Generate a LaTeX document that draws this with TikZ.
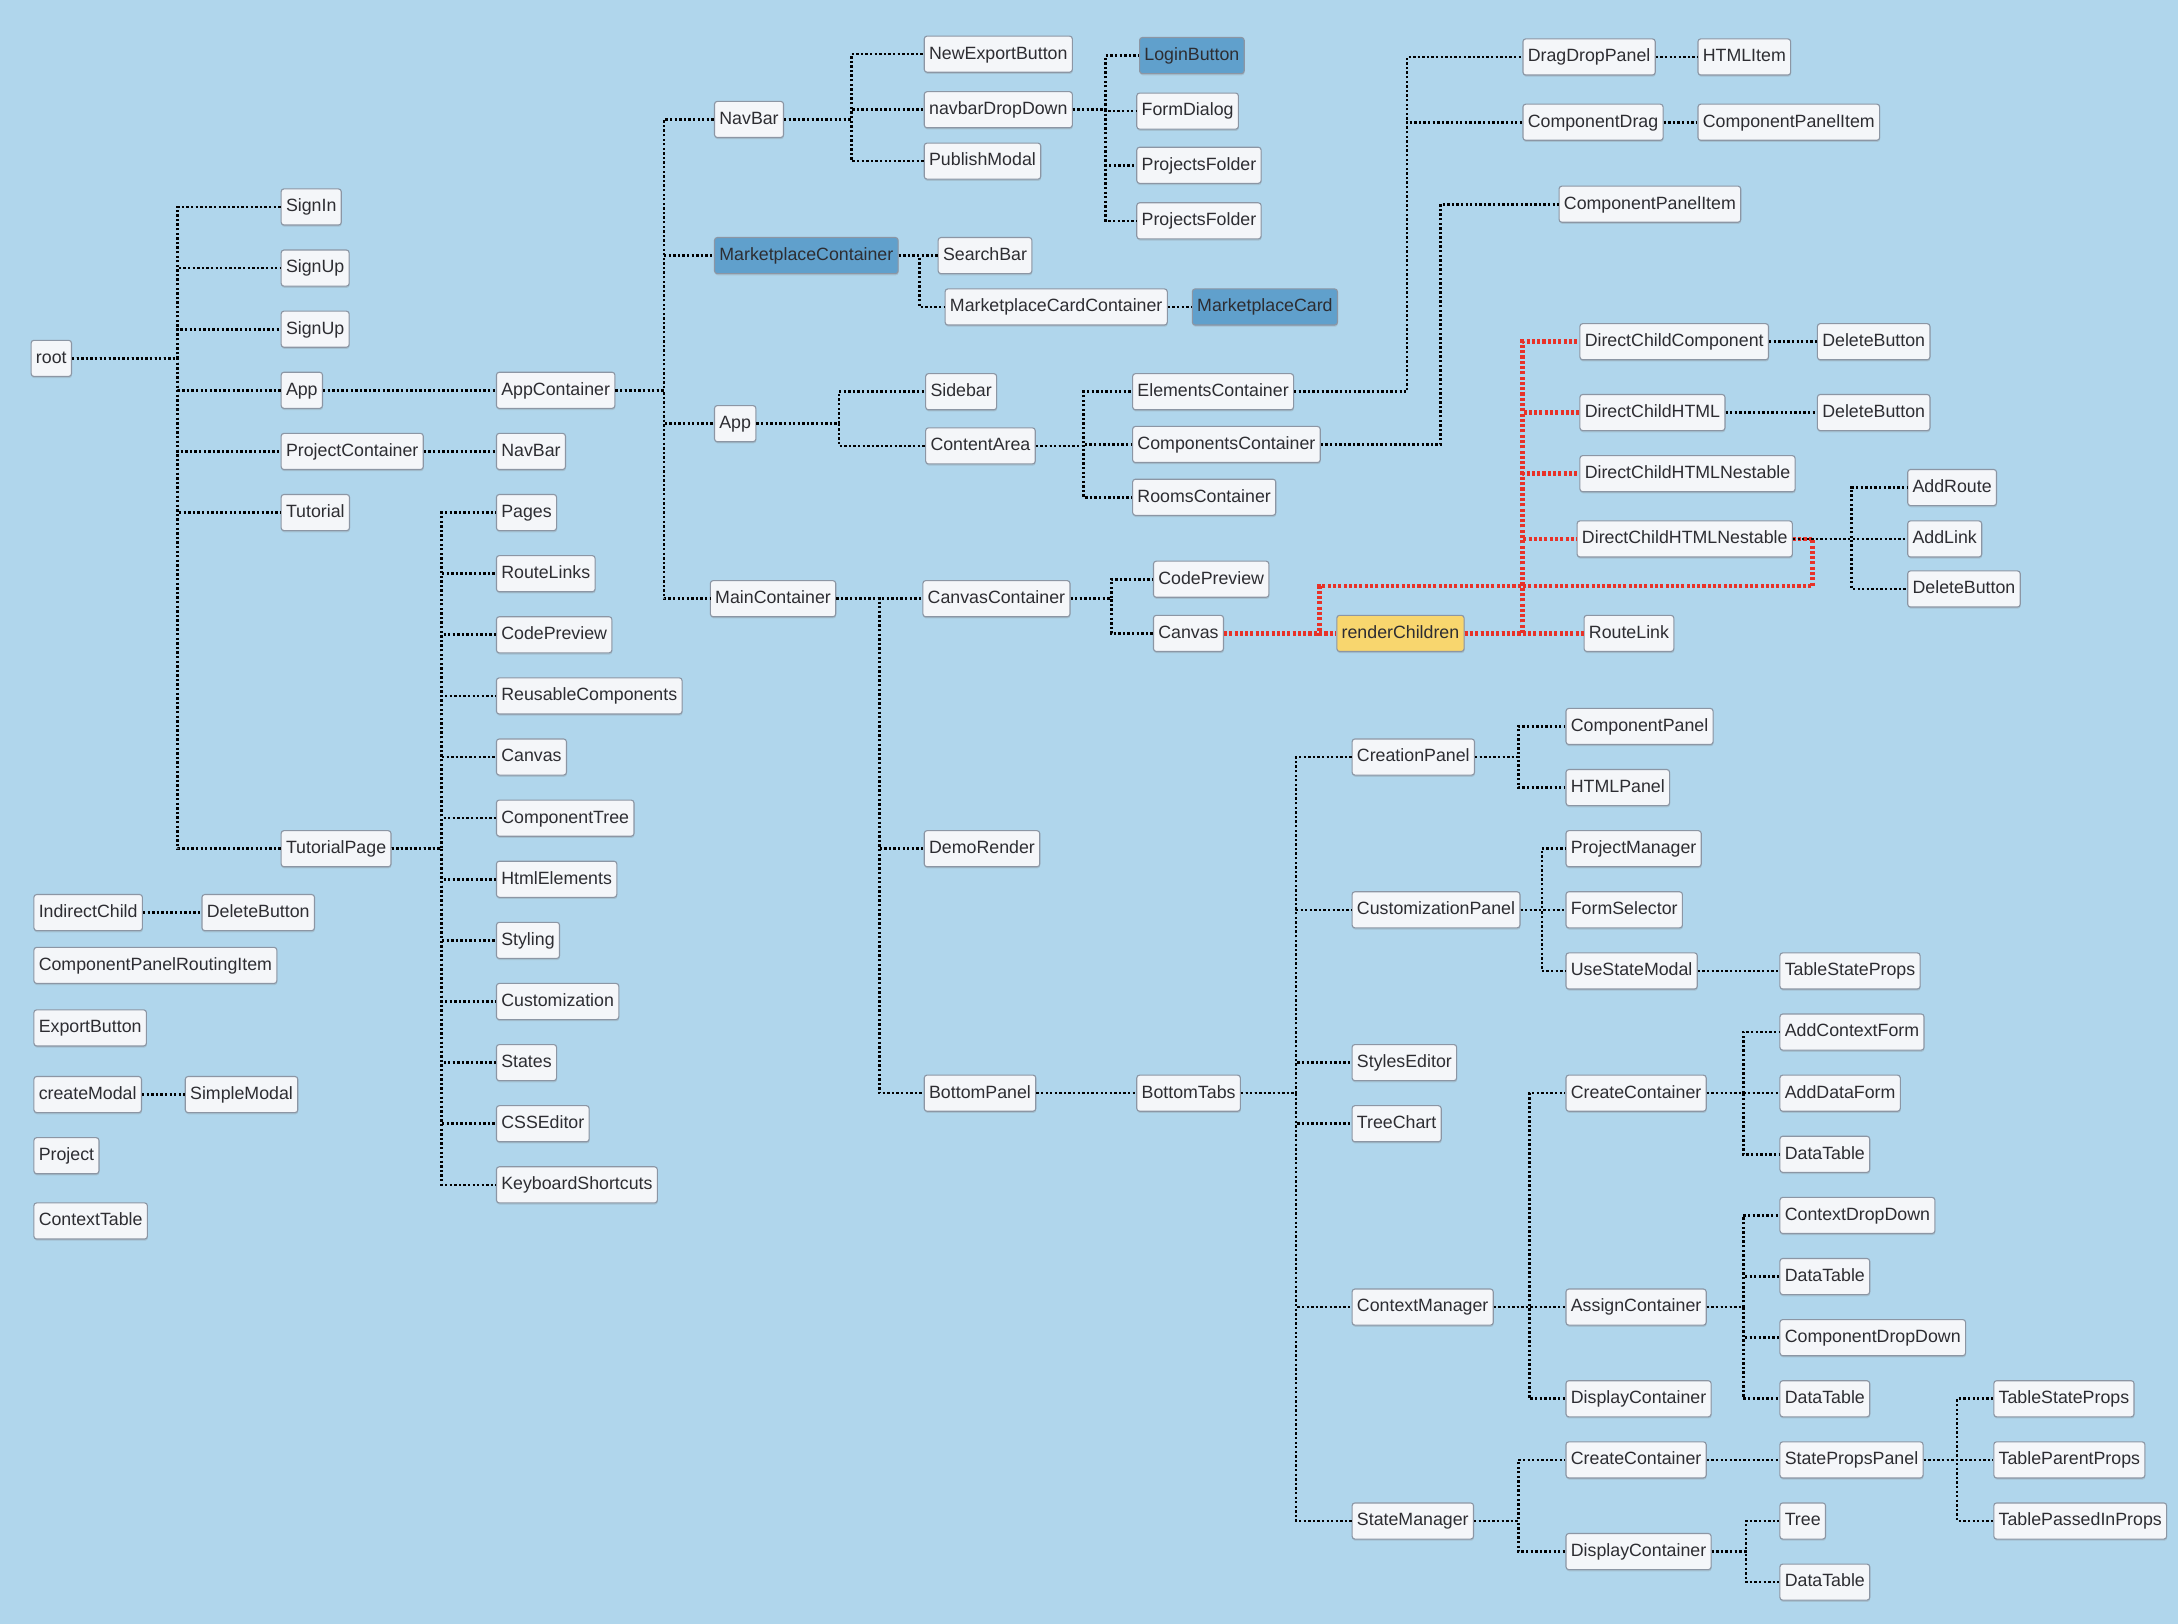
\documentclass[tikz,border=0pt]{standalone}
\usepackage{fontspec}
\setmainfont{Liberation Sans}
\usetikzlibrary{shadows}

\definecolor{bgblue}{RGB}{176,214,236}
\definecolor{boxfill}{RGB}{244,246,249}
\definecolor{boxline}{RGB}{140,150,164}
\definecolor{hlblue}{RGB}{96,160,204}
\definecolor{hlyellow}{RGB}{248,214,110}
\definecolor{redline}{RGB}{232,50,40}
\definecolor{txt}{RGB}{45,45,50}

\begin{document}
\begin{tikzpicture}[
  x=1pt,y=-1pt,
  box/.style={draw=boxline,fill=boxfill,rounded corners=2pt,line width=0.8pt,
              anchor=west,minimum height=26pt,inner xsep=3.5pt,
              text height=9.6pt,text depth=2.6pt,text=txt,
              font=\fontsize{12.8}{15}\selectfont,
              drop shadow={shadow xshift=0.3pt,shadow yshift=-1.2pt,opacity=.25}},
  hl/.style={box,fill=hlblue},
  yl/.style={box,fill=hlyellow},
  edge/.style={draw=black,line width=1.9pt,dash pattern=on 1.7pt off 1.6pt},
  redge/.style={draw=redline,line width=3.2pt,dash pattern=on 2.2pt off 1.6pt}
]

  % background, fixes the page size
  \fill[bgblue] (0,0) rectangle (1568,1169);

  %% ===== ROOT AND FIRST LEVEL =====
  \node[box] (root) at (22,258) {root};

  \node[box] (signin)   at (202,149) {SignIn};
  \node[box] (signupa)  at (202,193) {SignUp};
  \node[box] (signupb)  at (202,237) {SignUp};
  \node[box] (appa)     at (202,281) {App};
  \node[box] (projcont) at (202,325) {ProjectContainer};
  \node[box] (tutorial) at (202,369) {Tutorial};
  \node[box] (tutpage)  at (202,611) {TutorialPage};

  \foreach \c in {signin,signupa,signupb,appa,projcont,tutorial,tutpage}
    \draw[edge] (root.east) -| (128,0 |- \c) -- (\c.west);

  % App / ProjectContainer
  \node[box] (appcont) at (357,281) {AppContainer};
  \node[box] (navbara) at (357,325) {NavBar};
  \draw[edge] (appa.east) -- (appcont.west);
  \draw[edge] (projcont.east) -- (navbara.west);

  % Tutorial page children
  \node[box] (pages)     at (357,369) {Pages};
  \node[box] (routelnks) at (357,413) {RouteLinks};
  \node[box] (codepreva) at (357,457) {CodePreview};
  \node[box] (reusable)  at (357,501) {ReusableComponents};
  \node[box] (canvasa)   at (357,545) {Canvas};
  \node[box] (comptree)  at (357,589) {ComponentTree};
  \node[box] (htmlelems) at (357,633) {HtmlElements};
  \node[box] (styling)   at (357,677) {Styling};
  \node[box] (custom)    at (357,721) {Customization};
  \node[box] (states)    at (357,765) {States};
  \node[box] (csseditor) at (357,809) {CSSEditor};
  \node[box] (keyboard)  at (357,853) {KeyboardShortcuts};

  \foreach \c in {pages,routelnks,codepreva,reusable,canvasa,comptree,htmlelems,
                  styling,custom,states,csseditor,keyboard}
    \draw[edge] (tutpage.east) -| (318,0 |- \c) -- (\c.west);

  %% ===== APP CONTAINER =====
  \node[box] (navbarb)  at (514,86)  {NavBar};
  \node[hl]  (market)   at (514,184) {MarketplaceContainer};
  \node[box] (appb)     at (514,305) {App};
  \node[box] (maincont) at (511,431) {MainContainer};

  \foreach \c in {navbarb,market,appb,maincont}
    \draw[edge] (appcont.east) -| (478,0 |- \c) -- (\c.west);

  % NavBar
  \node[box] (newexport) at (665,39)  {NewExportButton};
  \node[box] (navdrop)   at (665,79)  {navbarDropDown};
  \node[box] (publish)   at (665,116) {PublishModal};

  \foreach \c in {newexport,navdrop,publish}
    \draw[edge] (navbarb.east) -| (613,0 |- \c) -- (\c.west);

  \node[hl]  (login)      at (820,40)  {LoginButton};
  \node[box] (formdialog) at (818,80)  {FormDialog};
  \node[box] (projfolda)  at (818,119) {ProjectsFolder};
  \node[box] (projfoldb)  at (818,159) {ProjectsFolder};

  \foreach \c in {login,formdialog,projfolda,projfoldb}
    \draw[edge] (navdrop.east) -| (796,0 |- \c) -- (\c.west);

  % Marketplace
  \node[box] (searchbar) at (675,184) {SearchBar};
  \node[box] (mcardcont) at (680,221) {MarketplaceCardContainer};
  \node[hl]  (mcard)     at (858,221) {MarketplaceCard};

  \foreach \c in {searchbar,mcardcont}
    \draw[edge] (market.east) -| (662,0 |- \c) -- (\c.west);
  \draw[edge] (mcardcont.east) -- (mcard.west);

  % App -> Sidebar / ContentArea
  \node[box] (sidebar) at (666,282) {Sidebar};
  \node[box] (content) at (666,321) {ContentArea};

  \foreach \c in {sidebar,content}
    \draw[edge] (appb.east) -| (604,0 |- \c) -- (\c.west);

  \node[box] (elemcont)  at (815,282) {ElementsContainer};
  \node[box] (compscont) at (815,320) {ComponentsContainer};
  \node[box] (rooms)     at (815,358) {RoomsContainer};

  \foreach \c in {elemcont,compscont,rooms}
    \draw[edge] (content.east) -| (780,0 |- \c) -- (\c.west);

  \node[box] (dragdrop) at (1096,41)  {DragDropPanel};
  \node[box] (htmlitem) at (1222,41)  {HTMLItem};
  \node[box] (compdrag) at (1096,88)  {ComponentDrag};
  \node[box] (cpitema)  at (1222,88)  {ComponentPanelItem};
  \node[box] (cpitemb)  at (1122,147) {ComponentPanelItem};

  \foreach \c in {dragdrop,compdrag}
    \draw[edge] (elemcont.east) -| (1013,0 |- \c) -- (\c.west);
  \draw[edge] (dragdrop.east) -- (htmlitem.west);
  \draw[edge] (compdrag.east) -- (cpitema.west);
  \draw[edge] (compscont.east) -| (1037,0 |- cpitemb) -- (cpitemb.west);

  %% ===== MAIN CONTAINER =====
  \node[box] (canvcont)  at (664,431) {CanvasContainer};
  \node[box] (demo)      at (665,611) {DemoRender};
  \node[box] (botpanel)  at (665,787) {BottomPanel};

  \foreach \c in {canvcont,demo,botpanel}
    \draw[edge] (maincont.east) -| (633,0 |- \c) -- (\c.west);

  \node[box] (codeprevb) at (830,417) {CodePreview};
  \node[box] (canvasb)   at (830,456) {Canvas};

  \foreach \c in {codeprevb,canvasb}
    \draw[edge] (canvcont.east) -| (800,0 |- \c) -- (\c.west);

  % render path (red)
  \node[yl]  (render)    at (962,456)  {renderChildren};
  \node[box] (dcc)       at (1137,246) {DirectChildComponent};
  \node[box] (dchtml)    at (1137,297) {DirectChildHTML};
  \node[box] (dcnesta)   at (1137,341) {DirectChildHTMLNestable};
  \node[box] (dcnestb)   at (1135,388) {DirectChildHTMLNestable};
  \node[box] (routelink) at (1140,456) {RouteLink};
  \node[box] (delbtna)   at (1308,246) {DeleteButton};
  \node[box] (delbtnb)   at (1308,297) {DeleteButton};
  \node[box] (addroute)  at (1373,351) {AddRoute};
  \node[box] (addlink)   at (1373,388) {AddLink};
  \node[box] (delbtnc)   at (1373,424) {DeleteButton};

  \draw[redge] (canvasb.east) -- (render.west);
  \foreach \c in {dcc,dchtml,dcnesta,dcnestb}
    \draw[redge] (render.east) -| (1096,0 |- \c) -- (\c.west);
  \draw[redge] (render.east) -- (routelink.west);
  \draw[redge] (dcnestb.east) -| (1305,422) -| (950,456) -- (render.west);

  \draw[edge] (dcc.east) -- (delbtna.west);
  \draw[edge] (dchtml.east) -- (delbtnb.west);
  \foreach \c in {addroute,addlink,delbtnc}
    \draw[edge] (dcnestb.east) -| (1333,0 |- \c) -- (\c.west);

  %% ===== BOTTOM PANEL =====
  \node[box] (bottabs) at (818,787) {BottomTabs};
  \draw[edge] (botpanel.east) -- (bottabs.west);

  \node[box] (creation) at (973,545)  {CreationPanel};
  \node[box] (custpanel) at (973,655) {CustomizationPanel};
  \node[box] (styles)   at (973,765)  {StylesEditor};
  \node[box] (treechart) at (973,809) {TreeChart};
  \node[box] (ctxmgr)   at (973,941)  {ContextManager};
  \node[box] (statemgr) at (973,1095) {StateManager};

  \foreach \c in {creation,custpanel,styles,treechart,ctxmgr,statemgr}
    \draw[edge] (bottabs.east) -| (933,0 |- \c) -- (\c.west);

  % creation / customization
  \node[box] (comppanel) at (1127,523) {ComponentPanel};
  \node[box] (htmlpanel) at (1127,567) {HTMLPanel};
  \foreach \c in {comppanel,htmlpanel}
    \draw[edge] (creation.east) -| (1093,0 |- \c) -- (\c.west);

  \node[box] (projmgr)  at (1127,611) {ProjectManager};
  \node[box] (formsel)  at (1127,655) {FormSelector};
  \node[box] (usestate) at (1127,699) {UseStateModal};
  \node[box] (tsprops)  at (1281,699) {TableStateProps};
  \foreach \c in {projmgr,formsel,usestate}
    \draw[edge] (custpanel.east) -| (1110,0 |- \c) -- (\c.west);
  \draw[edge] (usestate.east) -- (tsprops.west);

  % context manager
  \node[box] (createa) at (1127,787)  {CreateContainer};
  \node[box] (assign)  at (1127,941)  {AssignContainer};
  \node[box] (dispa)   at (1127,1007) {DisplayContainer};
  \foreach \c in {createa,assign,dispa}
    \draw[edge] (ctxmgr.east) -| (1101,0 |- \c) -- (\c.west);

  \node[box] (addctx)  at (1281,743) {AddContextForm};
  \node[box] (adddata) at (1281,787) {AddDataForm};
  \node[box] (dtablea) at (1281,831) {DataTable};
  \foreach \c in {addctx,adddata,dtablea}
    \draw[edge] (createa.east) -| (1255,0 |- \c) -- (\c.west);

  \node[box] (ctxdrop)  at (1281,875)  {ContextDropDown};
  \node[box] (dtableb)  at (1281,919)  {DataTable};
  \node[box] (compdrop) at (1281,963)  {ComponentDropDown};
  \node[box] (dtablec)  at (1281,1007) {DataTable};
  \foreach \c in {ctxdrop,dtableb,compdrop,dtablec}
    \draw[edge] (assign.east) -| (1255,0 |- \c) -- (\c.west);

  % state manager
  \node[box] (createb)    at (1127,1051) {CreateContainer};
  \node[box] (dispb)      at (1127,1117) {DisplayContainer};
  \node[box] (stateprops) at (1281,1051) {StatePropsPanel};
  \foreach \c in {createb,dispb}
    \draw[edge] (statemgr.east) -| (1093,0 |- \c) -- (\c.west);
  \draw[edge] (createb.east) -- (stateprops.west);

  \node[box] (tspropsb) at (1435,1007) {TableStateProps};
  \node[box] (tparent)  at (1435,1051) {TableParentProps};
  \node[box] (tpassed)  at (1435,1095) {TablePassedInProps};
  \foreach \c in {tspropsb,tparent,tpassed}
    \draw[edge] (stateprops.east) -| (1409,0 |- \c) -- (\c.west);

  \node[box] (tree)    at (1281,1095) {Tree};
  \node[box] (dtabled) at (1281,1139) {DataTable};
  \foreach \c in {tree,dtabled}
    \draw[edge] (dispb.east) -| (1257,0 |- \c) -- (\c.west);

  %% ===== LOOSE NODES (left) =====
  \node[box] (indirect)   at (24,657) {IndirectChild};
  \node[box] (delbtnd)    at (145,657) {DeleteButton};
  \node[box] (cproute)    at (24,695) {ComponentPanelRoutingItem};
  \node[box] (exportbtn)  at (24,740) {ExportButton};
  \node[box] (createmod)  at (24,788) {createModal};
  \node[box] (simplemod)  at (133,788) {SimpleModal};
  \node[box] (project)    at (24,832) {Project};
  \node[box] (ctxtable)   at (24,879) {ContextTable};

  \draw[edge] (indirect.east) -- (delbtnd.west);
  \draw[edge] (createmod.east) -- (simplemod.west);

\end{tikzpicture}
\end{document}
